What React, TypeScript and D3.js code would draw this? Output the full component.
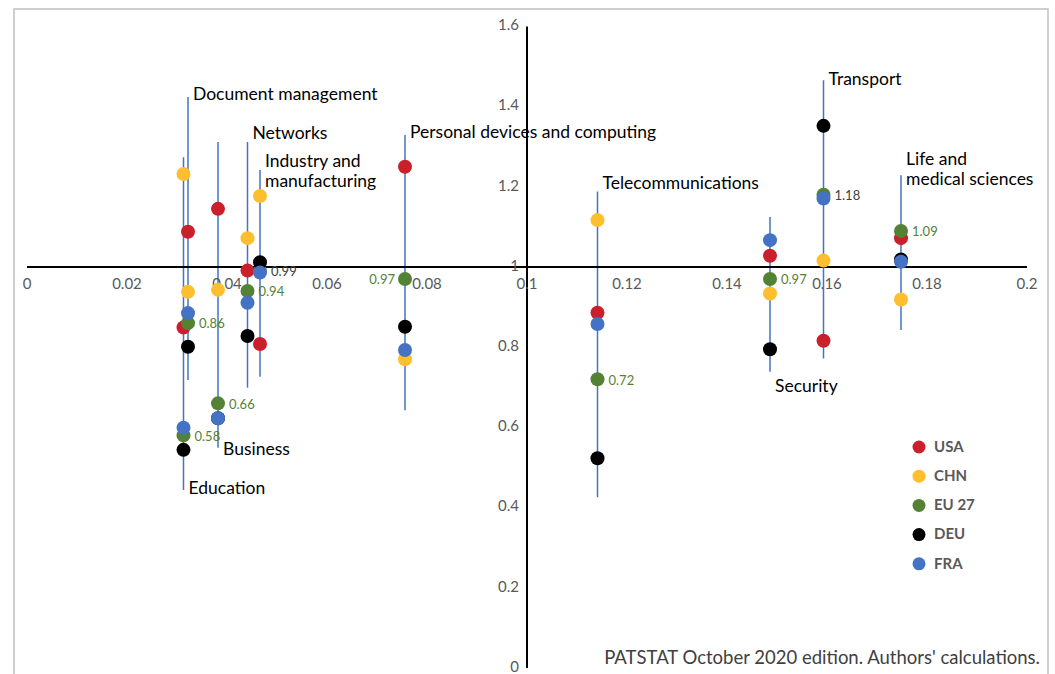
import React from 'react';
import * as d3 from 'd3';

// share of patents (x) and specialisation index per economy (y)
const categories = [
  'Education',
  'Document management',
  'Business',
  'Networks',
  'Industry and manufacturing',
  'Personal devices and computing',
  'Telecommunications',
  'Security',
  'Transport',
  'Life and medical sciences',
];
const labelLines = [
  ['Education'],
  ['Document management'],
  ['Business'],
  ['Networks'],
  ['Industry and', 'manufacturing'],
  ['Personal devices and computing'],
  ['Telecommunications'],
  ['Security'],
  ['Transport'],
  ['Life and', 'medical sciences'],
];
const share = [0.0313, 0.0322, 0.0382, 0.0441, 0.0466, 0.0756, 0.1141, 0.1486, 0.1593, 0.1748];

const usa = [0.849, 1.088, 1.145, 0.991, 0.808, 1.25, 0.886, 1.028, 0.816, 1.072];
const chn = [1.232, 0.938, 0.943, 1.072, 1.177, 0.77, 1.117, 0.934, 1.016, 0.919];
const eu27 = [0.58, 0.86, 0.66, 0.94, 0.99, 0.97, 0.72, 0.97, 1.18, 1.09];
const deu = [0.544, 0.801, 0.623, 0.828, 1.012, 0.851, 0.523, 0.795, 1.352, 1.019];
const fra = [0.599, 0.885, 0.623, 0.911, 0.986, 0.793, 0.858, 1.067, 1.171, 1.013];

// vertical range lines
const rangeLow = [0.444, 0.718, 0.549, 0.699, 0.726, 0.643, 0.426, 0.739, 0.772, 0.843];
const rangeHigh = [1.274, 1.424, 1.312, 1.312, 1.242, 1.329, 1.188, 1.125, 1.466, 1.229];
// where the category name sits (y value of first line)
const labelAt = [0.449, 1.431, 0.546, 1.334, 1.264, 1.337, 1.209, 0.703, 1.469, 1.269];

const xTicks = [0, 0.02, 0.04, 0.06, 0.08, 0.1, 0.12, 0.14, 0.16, 0.18, 0.2];
const yTicks = [0, 0.2, 0.4, 0.6, 0.8, 1, 1.2, 1.4, 1.6];

const series = [
  { name: 'USA', values: usa, color: '#C9202B' },
  { name: 'CHN', values: chn, color: '#FDBF2D' },
  { name: 'EU 27', values: eu27, color: '#548235' },
  { name: 'DEU', values: deu, color: '#000000' },
  { name: 'FRA', values: fra, color: '#4472C4' },
];

const W = 1055;
const H = 674;
const FONT = "Lato, 'Liberation Sans', sans-serif";

export default function App() {
  const x = d3.scaleLinear().domain([0, 0.2]).range([27, 1027]);
  const y = d3.scaleLinear().domain([0, 1.6]).range([668, 26.4]);
  const x0 = x(0.1);
  const y0 = y(1);
  const fmt = (v: number) => String(+v.toFixed(2));

  return (
    <svg
      width={W}
      height={H}
      style={{ position: 'absolute', left: 0, top: 0, background: '#fff' }}
      fontFamily={FONT}
    >
      <rect x={14} y={9} width={1034} height={700} fill="#fff" stroke="#BFBFBF" strokeWidth={1.5} />

      {/* range lines */}
      {categories.map((c, i) => (
        <line
          key={'r' + c}
          x1={x(share[i])}
          x2={x(share[i])}
          y1={y(rangeLow[i])}
          y2={y(rangeHigh[i])}
          stroke="#4472C4"
          strokeWidth={1.5}
        />
      ))}

      {/* axes */}
      <line x1={x(0)} x2={x(0.2)} y1={y0} y2={y0} stroke="#000" strokeWidth={2} />
      <line x1={x0} x2={x0} y1={y(0)} y2={y(1.6)} stroke="#000" strokeWidth={2} />

      {xTicks.map(t => (
        <text
          key={'xt' + t}
          x={x(t)}
          y={y0 + 18}
          textAnchor="middle"
          dominantBaseline="middle"
          fontSize={15}
          fill="#595959"
        >
          {fmt(t)}
        </text>
      ))}
      {yTicks.map(t => (
        <text
          key={'yt' + t}
          x={x0 - 8}
          y={y(t)}
          textAnchor="end"
          dominantBaseline="middle"
          fontSize={15}
          fill="#595959"
        >
          {fmt(t)}
        </text>
      ))}

      {/* points */}
      {series.map(s => (
        <g key={s.name}>
          {s.values.map((v, i) => (
            <circle key={i} cx={x(share[i])} cy={y(v)} r={7} fill={s.color} />
          ))}
        </g>
      ))}

      {/* EU 27 value labels */}
      {eu27.map((v, i) => {
        const left = categories[i] === 'Personal devices and computing';
        const dark = categories[i] === 'Industry and manufacturing' || categories[i] === 'Transport';
        return (
          <text
            key={'eu' + i}
            x={x(share[i]) + (left ? -10 : 11)}
            y={y(v) + 2}
            textAnchor={left ? 'end' : 'start'}
            dominantBaseline="middle"
            fontSize={13}
            fill={dark ? '#404040' : '#548235'}
          >
            {v.toFixed(2)}
          </text>
        );
      })}

      {/* category names */}
      {categories.map((c, i) => (
        <text key={'l' + c} x={x(share[i]) + 5} y={y(labelAt[i]) + 2} fontSize={17.5} fill="#000" dominantBaseline="middle">
          {labelLines[i].map((ln, j) => (
            <tspan key={j} x={x(share[i]) + 5} dy={j === 0 ? 0 : 20}>
              {ln}
            </tspan>
          ))}
        </text>
      ))}

      {/* legend */}
      {series.map((s, i) => (
        <g key={'lg' + s.name} transform={`translate(919, ${447 + i * 29.2})`}>
          <circle r={6.5} fill={s.color} />
          <text x={15} y={1} dominantBaseline="middle" fontSize={15} fontWeight="bold" fill="#595959">
            {s.name}
          </text>
        </g>
      ))}

      <text x={1040} y={659} textAnchor="end" dominantBaseline="middle" fontSize={18.5} fill="#404040">
        PATSTAT October 2020 edition. Authors' calculations.
      </text>
    </svg>
  );
}
